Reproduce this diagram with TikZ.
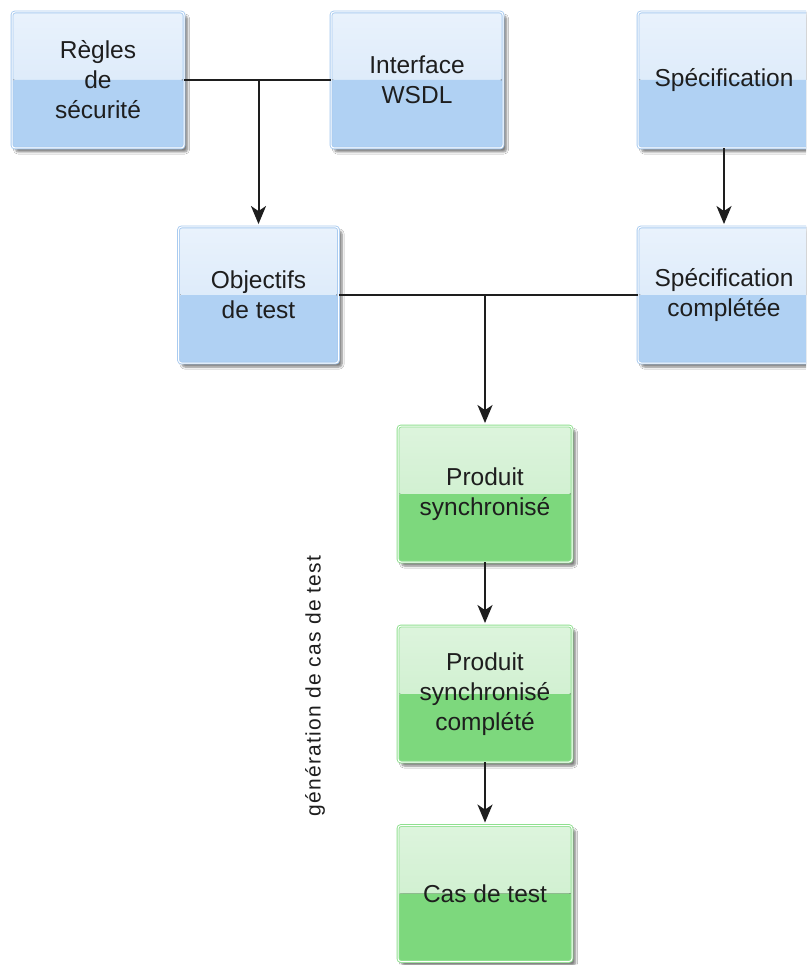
\documentclass[tikz,border=0pt]{standalone}
\usepackage{fontspec}
\setmainfont{Liberation Sans}
\newfontfamily\vfont[LetterSpace=6]{Liberation Sans}
\usetikzlibrary{arrows.meta,shadows.blur}
\definecolor{blueTop}{HTML}{E9F2FC}
\definecolor{blueMid}{HTML}{D3E5F8}
\definecolor{blueBot}{HTML}{B0D1F3}
\definecolor{blueLine}{HTML}{A9CBF0}
\definecolor{greenTop}{HTML}{DDF4DD}
\definecolor{greenMid}{HTML}{C6EDC6}
\definecolor{greenBot}{HTML}{7DD87D}
\definecolor{greenLine}{HTML}{8FE08F}
\definecolor{txt}{HTML}{1E1E1E}
\tikzset{
  basebox/.style={minimum width=172pt, minimum height=136pt, inner sep=0pt,
    rounded corners=3pt, align=center, text=txt,
    font=\fontsize{24.5}{30}\selectfont,
    line width=0.9pt, double distance=1pt,
    blur shadow={shadow xshift=3.5pt, shadow yshift=-4pt, shadow blur steps=6, shadow opacity=50}},
  bluebox/.style={basebox, draw=blueLine, double=white,
    path picture={
      \fill[top color=blueTop, bottom color=blueMid] (path picture bounding box.north west) rectangle (path picture bounding box.east);
      \fill[blueBot] (path picture bounding box.west) rectangle (path picture bounding box.south east);
    }},
  greenbox/.style={basebox, minimum width=174pt, draw=greenLine, double=white,
    path picture={
      \fill[top color=greenTop, bottom color=greenMid] (path picture bounding box.north west) rectangle (path picture bounding box.east);
      \fill[greenBot] (path picture bounding box.west) rectangle (path picture bounding box.south east);
    }},
  conn/.style={draw=txt, line width=2pt},
  arr/.style={conn, -{Stealth[length=18pt, width=15pt, inset=5pt]}, shorten >=2.5pt}
}
\begin{document}
\begin{tikzpicture}[x=1pt, y=-1pt]
\clip (0,0) rectangle (806,965);
\fill[white] (0,0) rectangle (806,965);
\node[bluebox] (R) at (98,80) {Règles\\de\\sécurité};
\node[bluebox] (I) at (417,80) {Interface\\WSDL};
\node[bluebox] (S) at (724,80) {Spécification};
\node[bluebox, minimum width=160pt] (O) at (258.5,295) {Objectifs\\de test};
\node[bluebox] (SC) at (724,295) {Spécification\\complétée};
\node[greenbox] (P1) at (485,494) {Produit\\synchronisé};
\node[greenbox] (P2) at (485,694) {Produit\\synchronisé\\complété};
\node[greenbox] (C) at (485,893.5) {Cas de test};
\node[rotate=90, text=txt, font=\vfont\fontsize{21}{24}\selectfont] (lbl) at (315,686) {génération de cas de test};
\coordinate (j1) at (O.north |- R.east);
\coordinate (j2) at (P1.north |- O.east);
\draw[conn] (R.east) -- (I.west);
\draw[arr] (j1) -- (O.north);
\draw[arr] (S.south) -- (SC.north);
\draw[conn] (O.east) -- (SC.west);
\draw[arr] (j2) -- (P1.north);
\draw[arr] (P1.south) -- (P2.north);
\draw[arr] (P2.south) -- (C.north);
\end{tikzpicture}
\end{document}
